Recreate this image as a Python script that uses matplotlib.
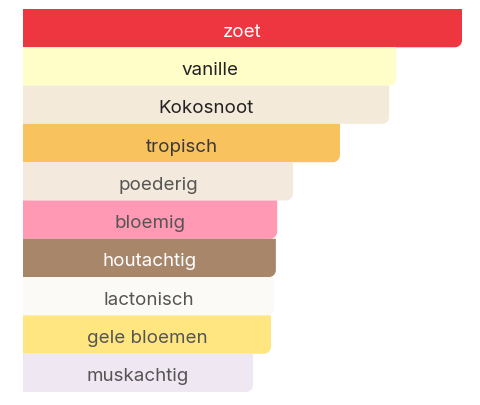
import matplotlib
matplotlib.use("Agg")
import matplotlib.pyplot as plt
from matplotlib.path import Path
from matplotlib.patches import PathPatch

categories = ["zoet", "vanille", "Kokosnoot", "tropisch", "poederig", "bloemig",
              "houtachtig", "lactonisch", "gele bloemen", "muskachtig"]
values = [100, 85.0, 83.4, 72.2, 61.5, 57.9, 57.6, 57.2, 56.5, 52.4]
colors = ["#EE3640", "#FFFDC8", "#F3EADA", "#F8C35E", "#F4E9DD", "#FF99B4",
          "#A8866A", "#FCFAF6", "#FFE680", "#EFE7F2"]
text_colors = ["#FFFFFF", "#222222", "#222222", "#3A3A3A", "#555555", "#555555",
               "#FFFFFF", "#555555", "#555555", "#555555"]

W, H = 480, 406
fig = plt.figure(figsize=(W / 100, H / 100), dpi=100)
ax_left, ax_top, ax_bottom = 23, 10, 393
ax = fig.add_axes([ax_left / W, (H - ax_bottom) / H, (W - ax_left) / W, (ax_bottom - ax_top) / H])
ax_w_px = W - ax_left
ax_h_px = ax_bottom - ax_top
xmax = 100 * ax_w_px / 439.0
ax.set_xlim(0, xmax)
ax.set_ylim(len(categories) - 0.5, -0.5)
ax.axis("off")

ypos = list(range(len(categories)))
bars = ax.barh(ypos, values, height=1.0, color=colors)

r_px = 7
rx = r_px * xmax / ax_w_px
ry = r_px * len(categories) / ax_h_px
k = 0.5523
for b, c in zip(bars, colors):
    x0, y0 = b.get_x(), b.get_y()
    x1, y1 = x0 + b.get_width(), y0 + b.get_height()
    # y axis inverted: y1 is visually the bottom edge -> round bottom-right only
    verts = [(x0, y0), (x1, y0),
             (x1, y1 - ry),
             (x1, y1 - ry + k * ry), (x1 - rx + k * rx, y1), (x1 - rx, y1),
             (x0, y1), (x0, y0)]
    codes = [Path.MOVETO, Path.LINETO,
             Path.LINETO,
             Path.CURVE4, Path.CURVE4, Path.CURVE4,
             Path.LINETO, Path.CLOSEPOLY]
    b.set_visible(False)
    ax.add_patch(PathPatch(Path(verts, codes), facecolor=c, edgecolor="none"))

for y, v, lab, tc in zip(ypos, values, categories, text_colors):
    ax.annotate(lab, xy=(v / 2, y), xytext=(0, -7.5 * 72 / 100), textcoords="offset points",
                ha="center", va="baseline", color=tc,
                fontsize=13.5, family=["Inter", "DejaVu Sans"])

fig.savefig("out.png", dpi=100)
